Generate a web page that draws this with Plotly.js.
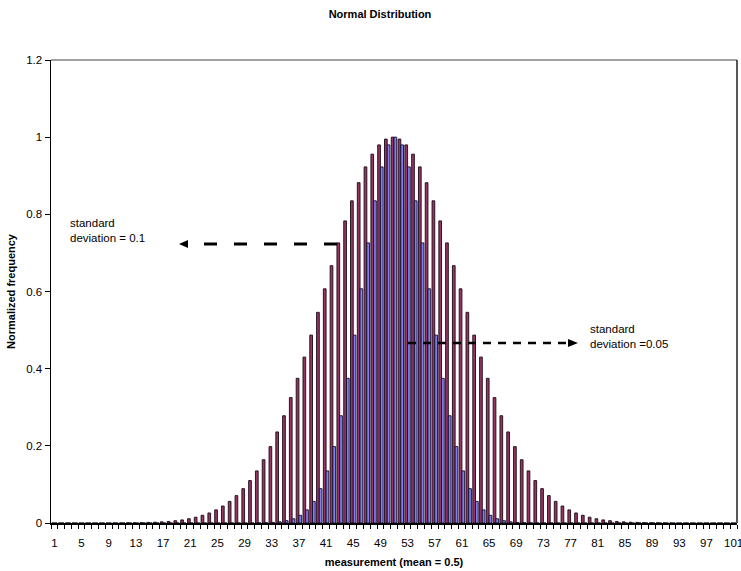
<!DOCTYPE html>
<html>
<head>
<meta charset="utf-8">
<script src="https://cdn.plot.ly/plotly-3.0.1.min.js"></script>
<style>html,body{margin:0;padding:0;background:#fff;}#chart{width:741px;height:571px;}</style>
</head>
<body>
<div id="chart"></div>
<script>
// Categories (measurement index 1..101)
var categories = [1,2,3,4,5,6,7,8,9,10,11,12,13,14,15,16,17,18,19,20,
  21,22,23,24,25,26,27,28,29,30,31,32,33,34,35,36,37,38,39,40,
  41,42,43,44,45,46,47,48,49,50,51,52,53,54,55,56,57,58,59,60,
  61,62,63,64,65,66,67,68,69,70,71,72,73,74,75,76,77,78,79,80,
  81,82,83,84,85,86,87,88,89,90,91,92,93,94,95,96,97,98,99,100,101];

// Series: standard deviation = 0.1
var sd010 = [0,0,0,0,0,0,0,0,0,0.0002,
  0.0003,0.0005,0.0007,0.001,0.0015,0.002,0.003,0.004,0.006,0.008,
  0.011,0.015,0.020,0.026,0.034,0.044,0.056,0.071,0.089,0.110,
  0.135,0.164,0.198,0.236,0.278,0.325,0.375,0.430,0.487,0.546,
  0.607,0.667,0.726,0.783,0.835,0.882,0.923,0.956,0.980,0.995,
  1.000,
  0.995,0.980,0.956,0.923,0.882,0.835,0.783,0.726,0.667,0.607,
  0.546,0.487,0.430,0.375,0.325,0.278,0.236,0.198,0.164,0.135,
  0.110,0.089,0.071,0.056,0.044,0.034,0.026,0.020,0.015,0.011,
  0.008,0.006,0.004,0.003,0.002,0.0015,0.001,0.0007,0.0005,0.0003,
  0.0002,0,0,0,0,0,0,0,0,0];

// Series: standard deviation = 0.05
var sd005 = [0,0,0,0,0,0,0,0,0,0,
  0,0,0,0,0,0,0,0,0,0,
  0,0,0,0,0,0,0,0,0,0,
  0.0003,0.0007,0.0015,0.003,0.006,0.011,0.020,0.034,0.056,0.089,
  0.135,0.198,0.278,0.375,0.487,0.607,0.726,0.835,0.923,0.980,
  1.000,
  0.980,0.923,0.835,0.726,0.607,0.487,0.375,0.278,0.198,0.135,
  0.089,0.056,0.034,0.020,0.011,0.006,0.003,0.0015,0.0007,0.0003,
  0,0,0,0,0,0,0,0,0,0,
  0,0,0,0,0,0,0,0,0,0,
  0,0,0,0,0,0,0,0,0,0];

var xTickVals = [1,5,9,13,17,21,25,29,33,37,41,45,49,53,57,61,65,69,73,77,81,85,89,93,97,101];
var yTickVals = [0,0.2,0.4,0.6,0.8,1,1.2];
var yTickText = ['0','0.2','0.4','0.6','0.8','1','1.2'];

var FONT = 'Arial, "Liberation Sans", sans-serif';

var traces = [
  {type:'bar', x:categories, y:sd010, name:'standard deviation = 0.1',
   marker:{color:'#993366', line:{color:'#1a0a14', width:0.9}}},
  {type:'bar', x:categories, y:sd005, name:'standard deviation = 0.05',
   marker:{color:'#8080F0', line:{color:'#10102a', width:0.9}}}
];

// plot area pixel geometry
var L = 51, R = 4, T = 60, B = 48, W = 741, H = 571;
var pw = W - L - R, ph = H - T - B;
function px(x){ return (x - L) / pw; }
function py(y){ return (H - B - y) / ph; }

var shapes = [
  // plot area border
  {type:'line', xref:'paper', yref:'paper', x0:0, x1:1, y0:1, y1:1, line:{color:'#808080', width:1.5}},
  {type:'line', xref:'paper', yref:'paper', x0:1, x1:1, y0:0, y1:1, line:{color:'#202020', width:1.5}},
  // arrow 1 (sd = 0.1), pointing left
  {type:'line', xref:'paper', yref:'paper', x0:px(337), x1:px(188), y0:py(244), y1:py(244),
   line:{color:'#000', width:3, dash:'13px,17px'}},
  {type:'path', xref:'paper', yref:'paper',
   path:'M'+px(179)+','+py(244)+' L'+px(188)+','+py(240)+' L'+px(188)+','+py(248)+' Z',
   fillcolor:'#000', line:{color:'#000', width:0}},
  // arrow 2 (sd = 0.05), pointing right
  {type:'line', xref:'paper', yref:'paper', x0:px(408), x1:px(569), y0:py(343), y1:py(343),
   line:{color:'#000', width:2.5, dash:'8px,7px'}},
  {type:'path', xref:'paper', yref:'paper',
   path:'M'+px(578)+','+py(343)+' L'+px(568)+','+py(339)+' L'+px(568)+','+py(347)+' Z',
   fillcolor:'#000', line:{color:'#000', width:0}}
];

var layout = {
  width: W, height: H,
  margin:{l:L, r:R, t:T, b:B, pad:0},
  paper_bgcolor:'#ffffff', plot_bgcolor:'#ffffff',
  font:{family:FONT, size:11, color:'#000'},
  showlegend:false,
  barmode:'group', bargap:0.2, bargroupgap:0,
  title:{text:'<b>Normal Distribution</b>', font:{family:FONT, size:11, color:'#000'},
         x:px(380), xref:'paper', xanchor:'center', y:1-14/H, yanchor:'middle'},
  xaxis:{
    type:'linear', range:[0.5, 101.5], fixedrange:true,
    tickmode:'array', tickvals:xTickVals, ticktext:xTickVals.map(String),
    ticks:'', showgrid:false, zeroline:false,
    showline:true, linecolor:'#000', linewidth:1.5,
    tickfont:{family:FONT, size:11.5, color:'#000'},
    ticklabelstandoff:9, ticklabeloverflow:'allow',
    minor:{ticks:'outside', tick0:0.5, dtick:1, ticklen:4, tickcolor:'#000', tickwidth:1, showgrid:false},
    title:{text:'<b>measurement (mean = 0.5)</b>', font:{family:FONT, size:11, color:'#000'}, standoff:10}
  },
  yaxis:{
    range:[0, 1.2], fixedrange:true,
    tickmode:'array', tickvals:yTickVals, ticktext:yTickText,
    ticks:'outside', ticklen:5, tickcolor:'#000', tickwidth:1,
    showgrid:false, zeroline:false,
    showline:true, linecolor:'#000', linewidth:1.5,
    tickfont:{family:FONT, size:11.5, color:'#000'},
    title:{text:'<b>Normalized frequency</b>', font:{family:FONT, size:11, color:'#000'}, standoff:8}
  },
  shapes: shapes,
  annotations:[
    {xref:'paper', yref:'paper', x:px(68), y:py(231), xanchor:'left', yanchor:'middle', align:'left',
     showarrow:false, text:'standard<br>deviation = 0.1', font:{family:FONT, size:11.5, color:'#000'}},
    {xref:'paper', yref:'paper', x:px(588), y:py(336), xanchor:'left', yanchor:'middle', align:'left',
     showarrow:false, text:'standard<br>deviation =0.05', font:{family:FONT, size:11.5, color:'#000'}}
  ]
};

Plotly.newPlot('chart', traces, layout, {displayModeBar:false, staticPlot:true});
</script>
</body>
</html>
